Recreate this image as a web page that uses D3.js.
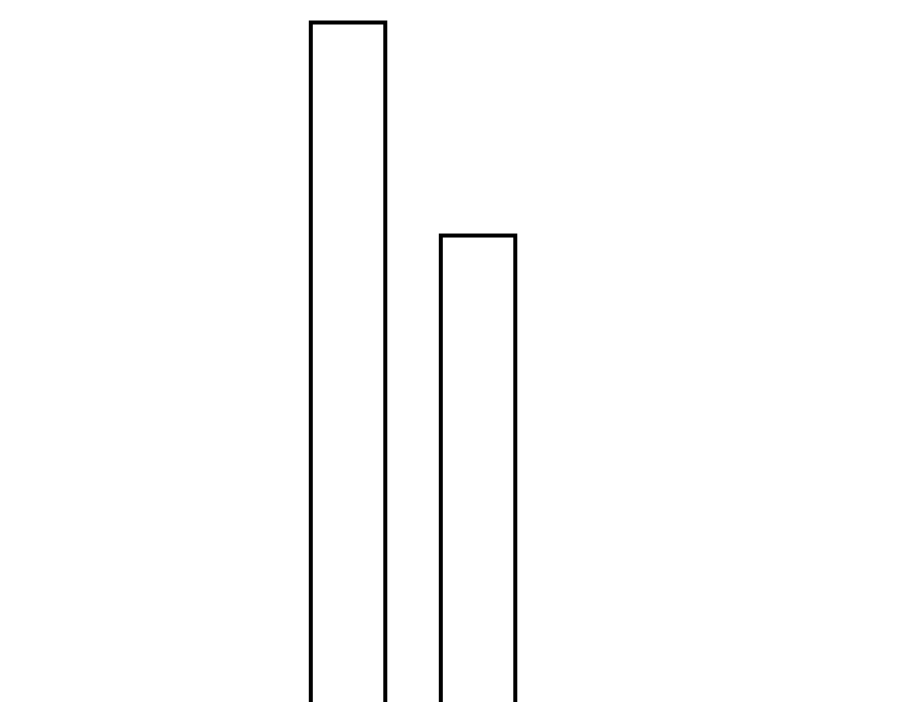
<!DOCTYPE html>
<html><head><meta charset="utf-8">
<script src="https://cdn.jsdelivr.net/npm/d3@7"></script>
<style>html,body{margin:0;padding:0;background:#fff;}svg{display:block;}</style>
</head><body>
<svg id="chart" width="900" height="702"></svg>
<script>
const categories = ["A", "B"];
const values = [100, 72.6];

const svg = d3.select("#chart");
const x = d3.scaleBand().domain(categories).range([310.8, 515.3]).paddingInner(0.427).paddingOuter(0);
const y = d3.scaleLinear().domain([0, 100]).range([800, 22.5]);

svg.selectAll("rect.bar").data(categories).join("rect")
  .attr("class", "bar")
  .attr("x", d => x(d))
  .attr("width", x.bandwidth())
  .attr("y", (d, i) => y(values[i]))
  .attr("height", (d, i) => y(0) - y(values[i]))
  .attr("fill", "#fff")
  .attr("stroke", "#000")
  .attr("stroke-width", 4);
</script>
</body></html>
